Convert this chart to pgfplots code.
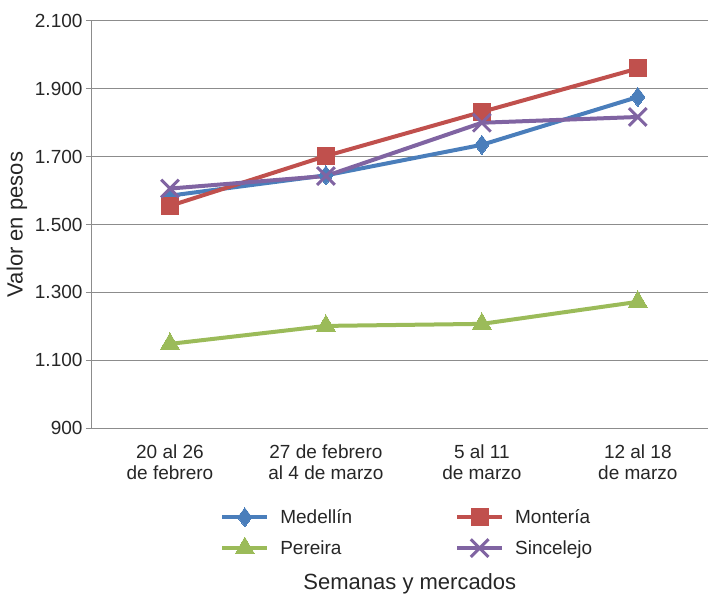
\documentclass[border=0pt]{standalone}
\usepackage{pgfplots}
\pgfplotsset{compat=1.18}
\usepackage{fontspec}
\setmainfont{Liberation Sans}
\definecolor{cblue}{HTML}{4A7EBB}
\definecolor{cred}{HTML}{C0504D}
\definecolor{cgreen}{HTML}{9BBB59}
\definecolor{cpurple}{HTML}{8064A2}
\definecolor{cgrid}{HTML}{8C8C8C}
\definecolor{ctext}{HTML}{262626}
\begin{document}
\begin{tikzpicture}
\begin{axis}[
  scale only axis,
  width=616pt, height=407pt,
  xmin=-0.5, xmax=3.45,
  ymin=900, ymax=2100,
  ytick={900,1100,1300,1500,1700,1900,2100},
  xtick={0,1,2,3},
  xticklabels={{20 al 26\\de febrero},{27 de febrero\\al 4 de marzo},{5 al 11\\de marzo},{12 al 18\\de marzo}},
  axis lines*=left,
  axis line style={cgrid, line width=1pt},
  ymajorgrids, grid style={cgrid, line width=1pt},
  tick align=outside,
  major tick length=6pt,
  ytick style={cgrid, line width=1pt},
  xtick style={draw=none},
  font=\fontsize{19}{21.5}\selectfont,
  every tick label/.append style={text=ctext},
  yticklabel style={/pgf/number format/.cd,1000 sep={.},assume math mode=true},
  xticklabel style={align=center, yshift=-7pt, font=\fontsize{19}{21.5}\selectfont},
  ylabel={Valor en pesos},
  xlabel={Semanas y mercados},
  ylabel style={at={(axis description cs:-0.1218,0.5)}, anchor=center, text=ctext, font=\fontsize{22}{26}\selectfont},
  xlabel style={at={(axis description cs:0.516,-0.383)}, anchor=center, text=ctext, font=\fontsize{22}{26}\selectfont},
  legend columns=2,
  legend style={draw=none, fill=none, inner sep=0pt, at={(axis description cs:0.208,-0.195)}, anchor=north west,
    font=\fontsize{19}{21.5}\selectfont, text=ctext,
    /tikz/every odd column/.append style={column sep=9pt},
    /tikz/every even column/.append style={column sep=101pt},
    row sep=10pt},
  legend cell align=left,
  legend image code/.code={
    \draw[#1, mark repeat=2, mark phase=2] plot coordinates {(0pt,0pt) (22.5pt,0pt) (45pt,0pt)};
  },
  every axis plot/.append style={line width=4pt},
]
\coordinate (bl) at (rel axis cs:0,0);
\coordinate (tr) at (rel axis cs:1,1);
\addplot[cblue, mark=diamond*, mark size=9.5pt, mark options={solid, line width=0pt, fill=cblue}] coordinates {(0,1585) (1,1645) (2,1735) (3,1876)};
\addlegendentry{Medellín}
\addplot[cred, mark=square*, mark size=8.5pt, mark options={solid, line width=0pt, fill=cred}] coordinates {(0,1555) (1,1702) (2,1832) (3,1960)};
\addlegendentry{Montería}
\addplot[cgreen, mark=triangle*, mark size=11pt, mark options={solid, line width=0pt, fill=cgreen}] coordinates {(0,1148) (1,1201) (2,1207) (3,1272)};
\addlegendentry{Pereira}
\addplot[cpurple, mark=x, mark size=12.5pt, mark options={solid, line width=3pt}] coordinates {(0,1606) (1,1643) (2,1800) (3,1817)};
\addlegendentry{Sincelejo}
\end{axis}
\pgfresetboundingbox
\path ([shift={(-92pt,-167pt)}]bl) rectangle ([shift={(0pt,21pt)}]tr);
\end{tikzpicture}
\end{document}
